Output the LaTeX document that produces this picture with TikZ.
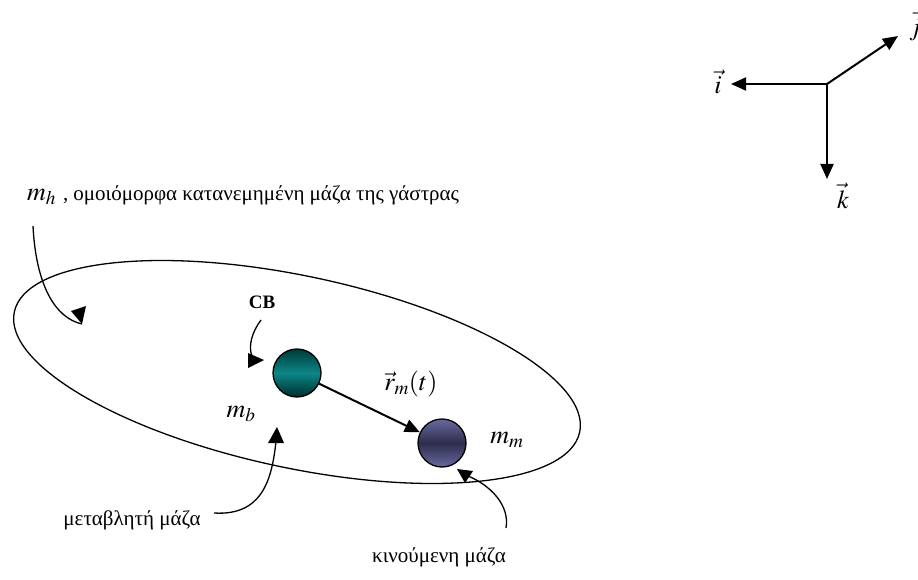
\documentclass[tikz,border=0pt]{standalone}
\usepackage{mathptmx}
\usepackage{fontspec}
\setmainfont{Liberation Serif}
\usetikzlibrary{arrows.meta,shadings}
\tikzset{
  conn/.style={line width=1.3pt},
  vecarrow/.style={line width=2pt,-{Triangle[length=15pt,width=13pt]}},
  head/.style={fill=black},
  lbl/.style={inner sep=0pt,font=\fontsize{21}{24}\selectfont},
  mathlbl/.style={inner sep=0pt,font=\fontsize{26}{29}\selectfont},
  ballA/.style={circle,draw=black,line width=1.3pt,minimum size=48pt,inner sep=0pt,
    top color=teal!45!black,bottom color=teal!35!black,middle color=teal!95!white},
  ballB/.style={circle,draw=black,line width=1.3pt,minimum size=48pt,inner sep=0pt,
    top color={rgb,255:red,105;green,105;blue,160},bottom color={rgb,255:red,105;green,105;blue,160},
    middle color={rgb,255:red,45;green,45;blue,75}},
}
\begin{document}
\begin{tikzpicture}[x=1pt,y=-1pt]
\useasboundingbox (0,0) rectangle (918,580);
% axes
\coordinate (O) at (827,84);
\coordinate (ti) at (731,84);
\coordinate (tj) at (898,36);
\coordinate (tk) at (827,179);
\draw[vecarrow] (O) -- (ti);
\draw[vecarrow] (O) -- (tj);
\draw[vecarrow] (O) -- (tk);
\node[mathlbl] (li) at (718,82) {$\vec{i}$};
\node[mathlbl] (lj) at (915,26) {$\vec{j}$};
\node[mathlbl] (lk) at (843,196) {$\vec{k}$};
% hull ellipse
\draw[conn,rotate around={-12:(297,372)}] (297,372) ellipse [x radius=289, y radius=96];
% balls
\node[ballA] (cb) at (297,373) {};
\node[ballB] (mm) at (442,443) {};
\draw[vecarrow] (cb) -- (mm);
% labels
\node[anchor=west,inner sep=0pt] (mh) at (27,195) {{\fontsize{26}{29}\selectfont$m_h$}\,{\fontsize{21}{24}\selectfont\ , ομοιόμορφα κατανεμημένη μάζα της γάστρας}};
\node[lbl,font=\fontsize{19}{22}\selectfont\bfseries] (cbl) at (262,302) {CB};
\node[mathlbl] (mbl) at (241,414) {$m_b$};
\node[mathlbl] (rml) at (411,384) {$\vec{r}_m(t)$};
\node[mathlbl] (mml) at (507,440) {$m_m$};
\node[lbl] (mbt) at (132,520) {μεταβλητή μάζα};
\node[lbl] (mmt) at (439,557) {κινούμενη μάζα};
% curved pointers
\coordinate (h0) at (33,226);
\coordinate (h1) at (82,324);
\draw[conn] (h0) .. controls (36,285) and (55,318) .. (h1);
\fill[head] (71,311) -- (86,306) -- (h1) -- cycle;
\coordinate (c0) at (261,320);
\coordinate (c1) at (252,356);
\draw[conn] (c0) .. controls (252,332) and (248,346) .. (c1);
\fill[head] (248,353) -- (264,360) -- (248,368) -- cycle;
\coordinate (b0) at (214,513);
\coordinate (b1) at (276,441);
\draw[conn] (b0) .. controls (262,516) and (272,480) .. (b1);
\fill[head] (268,443) -- (277,427) -- (284,443) -- cycle;
\coordinate (m0) at (506,528);
\coordinate (m1) at (468,476);
\draw[conn] (m0) .. controls (510,505) and (490,485) .. (m1);
\fill[head] (457,469) -- (473,471) -- (465,483) -- cycle;
\end{tikzpicture}
\end{document}
